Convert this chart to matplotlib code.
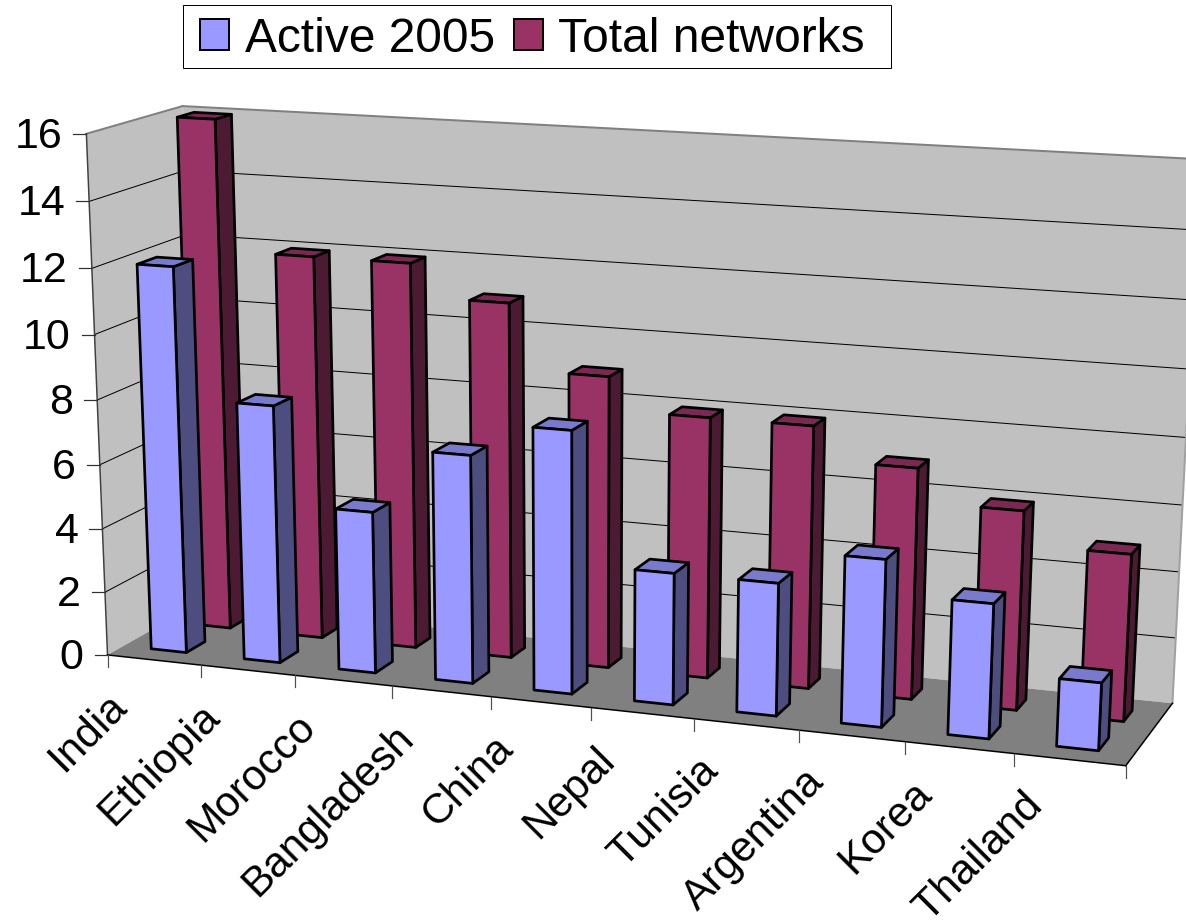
import numpy as np
from matplotlib import pyplot as plt
from matplotlib.patches import Patch, Polygon, Rectangle

countries = ["India", "Ethiopia", "Morocco", "Bangladesh", "China",
             "Nepal", "Tunisia", "Argentina", "Korea", "Thailand"]
active_2005 = [12, 8, 5, 7, 8, 4, 4, 5, 4, 2]
total_networks = [16, 12, 12, 11, 9, 8, 8, 7, 6, 5]
y_ticks = [0, 2, 4, 6, 8, 10, 12, 14, 16]

plt.rcParams['font.family'] = ['Liberation Sans', 'DejaVu Sans']

BLUE = ('#9999ff', '#4d4d80', '#7a7acc')      # front, side, top
MAROON = ('#993366', '#4d1a33', '#7a2952')
PX = 0.72   # one pixel in points at dpi 100


### CAMERA: fit a projection to the corners of the chart box

# (category, depth, value) -> pixel
box_world = [(0, 0, 0), (10, 0, 0), (10, 1, 0), (0, 1, 0), (0, 1, 16),
             (10, 1, 16), (0, 0, 16), (5, 0, 0)]
box_pixel = [(109, 655), (1125, 766), (1173, 703), (197, 603), (184, 107),
             (1200, 159), (85, 133), (592, 708)]


def fit_camera(world, pixel):
    A = []
    b = []
    for (x, y, z), (u, v) in zip(world, pixel):
        A.append([x, y, z, 1, 0, 0, 0, 0, -u*x, -u*y, -u*z])
        b.append(u)
        A.append([0, 0, 0, 0, x, y, z, 1, -v*x, -v*y, -v*z])
        b.append(v)
    m = np.linalg.lstsq(np.array(A, float), np.array(b, float), rcond=None)[0]
    return np.append(m, 1).reshape(3, 4)


CAM = fit_camera(box_world, box_pixel)


def project(x, y, z):
    p = CAM @ np.array([x, y, z, 1.0])
    return p[0]/p[2], p[1]/p[2]


def face(ax, pts, color, edge='black', lw=2.7, zorder=3):
    ax.add_patch(Polygon([project(*p) for p in pts], closed=True, facecolor=color,
                         edgecolor=edge, linewidth=lw*PX, joinstyle='round',
                         zorder=zorder))


def line(ax, a, b, color='black', lw=1.0):
    pa = project(*a)
    pb = project(*b)
    ax.plot([pa[0], pb[0]], [pa[1], pb[1]], color=color, lw=lw*PX, zorder=1)


def bar(ax, k, x1, y0, y1, value, colors):
    x0 = k + 0.30
    x1 = k + x1
    face(ax, [(x1, y0, 0), (x1, y1, 0), (x1, y1, value), (x1, y0, value)], colors[1])
    face(ax, [(x0, y0, value), (x1, y0, value), (x1, y1, value), (x0, y1, value)], colors[2])
    face(ax, [(x0, y0, 0), (x1, y0, 0), (x1, y0, value), (x0, y0, value)], colors[0])


def main():
    fig = plt.figure(figsize=(11.86, 9.21), dpi=100)
    ax = fig.add_axes([0, 0, 1, 1])
    ax.set_xlim(0, 1186)
    ax.set_ylim(921, 0)
    ax.axis('off')

    # walls and floor
    top = y_ticks[-1]
    face(ax, [(0, 1, 0), (10, 1, 0), (10, 1, top), (0, 1, top)], '#c0c0c0', 'none', 0, 0)
    face(ax, [(0, 0, 0), (0, 1, 0), (0, 1, top), (0, 0, top)], '#c0c0c0', 'none', 0, 0)
    face(ax, [(0, 0, 0), (10, 0, 0), (10, 1, 0), (0, 1, 0)], '#808080', 'none', 0, 0)

    for v in y_ticks[1:-1]:
        line(ax, (0, 0, v), (0, 1, v))
        line(ax, (0, 1, v), (10, 1, v))
    line(ax, (0, 0, top), (0, 1, top), '#808080', 2)
    line(ax, (0, 1, top), (10, 1, top), '#808080', 2)
    line(ax, (10, 1, 0), (10, 1, top), '#a0a0a0', 2)
    line(ax, (0, 0, 0), (0, 0, top), '#404040', 1.5)
    line(ax, (0, 0, 0), (10, 0, 0), 'black', 1.5)
    line(ax, (10, 0, 0), (10, 1, 0), 'black', 1.5)

    # value axis
    for v in y_ticks:
        px, py = project(0, 0, v)
        ax.plot([px - 13, px], [py, py], color='#303030', lw=1.2*PX)
        ax.text(px - 24, py + 3, str(v), ha='right', va='center', fontsize=31)

    # category axis
    for k in range(len(countries) + 1):
        px, py = project(k, 0, 0)
        ax.plot([px, px], [py, py + 12], color='#505050', lw=1.2*PX)
    for k, name in enumerate(countries):
        px, py = project(k + 0.5, 0, 0)
        ax.text(px - 34, py + 40, name, rotation=45, rotation_mode='anchor',
                ha='right', va='center', fontsize=30.5)

    # back row first, then the front row
    for k, v in enumerate(total_networks):
        bar(ax, k, 0.70, 0.64, 0.82, v, MAROON)
    for k, v in enumerate(active_2005):
        bar(ax, k, 0.68, 0.17, 0.375, v, BLUE)

    # legend frame is a separate box: its side padding is wider than its top padding
    ax.add_patch(Rectangle((183, 5), 708, 63, facecolor='white', edgecolor='black',
                           linewidth=1.0*PX, zorder=4))
    handles = [Patch(facecolor=BLUE[0], edgecolor='black', linewidth=2*PX),
               Patch(facecolor=MAROON[0], edgecolor='black', linewidth=2*PX)]
    leg = ax.legend(handles, ['Active 2005', 'Total networks'], ncol=2, fontsize=34.5,
                    loc='center left', bbox_to_anchor=(200/1186, 1 - 39/921),
                    bbox_transform=fig.transFigure, borderaxespad=0, borderpad=0,
                    handlelength=0.6, handleheight=0.6, handletextpad=0.33,
                    columnspacing=0.4, frameon=False)
    leg.set_zorder(5)

    fig.savefig('out.png', dpi=100)


### CALLING MAIN

main()
